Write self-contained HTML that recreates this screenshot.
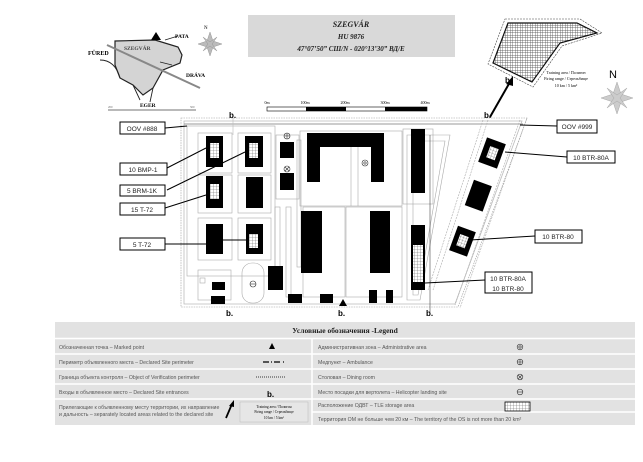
<!DOCTYPE html>
<html><head><meta charset="utf-8"><style>
html,body{margin:0;padding:0;background:#fff;}
svg{display:block}
text{font-family:"Liberation Sans","Noto Sans CJK SC",sans-serif}
.s,.s text{font-family:"Liberation Serif","Noto Serif CJK SC",serif}
.lg{font-size:5.2px;fill:#555}
.lb{font-size:6.5px;fill:#222}
</style></head><body>
<svg width="643" height="462" viewBox="0 0 643 462" xmlns="http://www.w3.org/2000/svg">
<defs>
<pattern id="g" width="3" height="3" patternUnits="userSpaceOnUse"><rect width="3" height="3" fill="#fff"/><path d="M0 0H3M0 0V3" stroke="#666" stroke-width="0.6"/></pattern>
<pattern id="g2" width="2.5" height="2.5" patternUnits="userSpaceOnUse"><rect width="2.5" height="2.5" fill="#fff"/><path d="M0 0H2.5M0 0V2.5" stroke="#444" stroke-width="0.7"/></pattern>
</defs>
<!-- inset map -->
<polygon points="115,41 155,40 178,47 182,55 180,63 163,70 153,88 143,95 133,85 120,78 115,65" fill="#d4d4d4" stroke="#222" stroke-width="1.2"/>
<line x1="107" y1="45" x2="200" y2="88" stroke="#888" stroke-width="2"/>
<path d="M100 60 Q115 60 120 78 M153 88 L150 102 M133 85 L140 100 M165 40 L178 36 M172 65 L160 62" stroke="#222" fill="none" stroke-width="0.9"/>
<polygon points="151,40 156,32 161,40" fill="#000"/>
<text x="88" y="55" class="s" font-size="6" font-weight="bold">FÜRED</text>
<text x="124" y="50" class="s" font-size="5.5" font-weight="bold" fill="#444">SZEGVÁR</text>
<text x="175" y="38" class="s" font-size="5.5" font-weight="bold">PATA</text>
<text x="186" y="77" class="s" font-size="5.5" font-weight="bold">DRÁVA</text>
<text x="140" y="107" class="s" font-size="5.5" font-weight="bold">EGER</text>
<line x1="108" y1="110" x2="196" y2="110" stroke="#444" stroke-width="0.8"/>
<g class="s" font-size="3" fill="#666"><text x="108" y="108">200</text><text x="190" y="108">500</text></g>
<!-- compass small -->
<g transform="translate(210,44)" fill="#bbb" stroke="#888" stroke-width="0.4">
<polygon points="0,-12 3,-3 12,0 3,3 0,12 -3,3 -12,0 -3,-3"/>
<polygon points="-7,-7 0,-2 7,-7 2,0 7,7 0,2 -7,7 -2,0"/>
</g>
<text x="204" y="29" font-size="5" class="s">N</text>
<!-- title -->
<rect x="248" y="15" width="207" height="42" fill="#d9d9d9"/>
<g class="s" font-style="italic" font-weight="bold" text-anchor="middle" fill="#222">
<text x="351" y="27" font-size="8">SZEGVÁR</text>
<text x="351" y="39" font-size="7">HU 9876</text>
<text x="351" y="51" font-size="7">47°07’50” СШ/N  -  020°13’30” ВД/Е</text>
</g>
<!-- scale bar -->
<rect x="267" y="107" width="160" height="4" fill="#fff" stroke="#000" stroke-width="0.6"/>
<rect x="306" y="107" width="40" height="4" fill="#000"/><rect x="385" y="107" width="42" height="4" fill="#000"/>
<g font-size="4" class="s" text-anchor="middle"><text x="267" y="104">0m</text><text x="305" y="104">100m</text><text x="345" y="104">200m</text><text x="385" y="104">300m</text><text x="425" y="104">400m</text></g>
<!-- training area -->
<polygon points="505,19 580,19 602,33 562,46 533,87 488,64" fill="none" stroke="#444" stroke-width="0.6" stroke-dasharray="2 1"/>
<polygon points="508,23 577,23 597,33 560,43 532,82 493,63" fill="url(#g2)" stroke="#111" stroke-width="1.2"/>
<line x1="490" y1="117" x2="510" y2="82" stroke="#000" stroke-width="2"/>
<polygon points="513,76 506,84 513,86" fill="#000"/>
<g class="s" font-size="4" text-anchor="middle"><text x="566" y="74">Training area / Полигон</text><text x="566" y="80">Firing range / Стрельбище</text><text x="566" y="87">10 km / 5 km²</text></g>
<text x="609" y="78" font-size="11">N</text>
<g transform="translate(617,98)" fill="#ccc" stroke="#999" stroke-width="0.4">
<polygon points="0,-16 4,-4 16,0 4,4 0,16 -4,4 -16,0 -4,-4"/>
<polygon points="-10,-10 0,-3 10,-10 3,0 10,10 0,3 -10,10 -3,0"/>
</g>
<!-- site perimeter -->
<polygon points="181,118 527,118 458,307 181,307" fill="none" stroke="#999" stroke-width="0.6" stroke-dasharray="1.5 1"/>
<polygon points="184,121 522,121 455,304 184,304" fill="none" stroke="#bbb" stroke-width="0.8"/>
<line x1="184" y1="124" x2="523" y2="124" stroke="#999" stroke-width="1"/>
<!-- left section lines -->
<g fill="none" stroke="#aaa" stroke-width="0.6">
<rect x="187" y="126" width="88" height="150"/>
<rect x="198" y="133" width="34" height="40"/><rect x="238" y="133" width="33" height="40"/>
<rect x="198" y="175" width="34" height="38"/><rect x="238" y="175" width="33" height="38"/>
<rect x="198" y="218" width="34" height="42"/><rect x="238" y="218" width="33" height="42"/>
<rect x="198" y="270" width="33" height="30"/>
<rect x="242" y="263" width="22" height="40" rx="10"/>
<rect x="276" y="135" width="23" height="64"/>
<rect x="297" y="140" width="4" height="127"/>
<rect x="275" y="207" width="5" height="60"/>
<rect x="286" y="207" width="5" height="90"/>
<rect x="300" y="131" width="102" height="75"/>
<line x1="351" y1="145" x2="351" y2="206"/><line x1="358" y1="145" x2="358" y2="206"/>
<rect x="303" y="207" width="42" height="90"/><rect x="346" y="207" width="56" height="90"/>
<rect x="403" y="129" width="30" height="75"/>
<polygon points="407,135 450,135 420,300 407,300"/>
<polygon points="413,141 445,141 418,295 413,295"/>
<rect x="200" y="278" width="5" height="5"/>
</g>
<g stroke="#aaa" stroke-width="0.6" fill="none" stroke-dasharray="2 1">
<line x1="488" y1="120" x2="433" y2="290"/><line x1="483" y1="120" x2="428" y2="290"/>
<line x1="527" y1="118" x2="460" y2="308"/><line x1="520" y1="120" x2="455" y2="305"/>
</g>
<line x1="233" y1="118" x2="233" y2="135" stroke="#bbb" stroke-width="0.6"/>
<line x1="430" y1="135" x2="430" y2="312" stroke="#222" stroke-width="0.5"/>
<!-- buildings -->
<g fill="#000">
<rect x="206" y="136" width="17" height="31"/><rect x="245" y="136" width="18" height="31"/>
<rect x="206" y="176" width="17" height="32"/><rect x="246" y="177" width="17" height="31"/>
<rect x="206" y="224" width="17" height="30"/><rect x="246" y="224" width="17" height="30"/>
<rect x="280" y="142" width="14" height="16"/><rect x="280" y="173" width="14" height="17"/>
<path d="M307 133H384V182H371V147H320V182H307Z"/>
<rect x="411" y="129" width="14" height="64"/>
<rect x="301" y="211" width="21" height="62"/><rect x="370" y="211" width="20" height="62"/>
<rect x="411" y="225" width="14" height="65"/>
<rect x="268" y="266" width="15" height="24"/>
<rect x="288" y="294" width="14" height="9"/><rect x="320" y="294" width="13" height="9"/>
<rect x="369" y="290" width="8" height="13"/><rect x="386" y="290" width="7" height="13"/>
<rect x="212" y="282" width="13" height="8"/><rect x="211" y="296" width="14" height="8"/>
<polygon points="339,306 343,299 347,306"/>
<rect x="482" y="140" width="20" height="26" transform="rotate(20 492 153)"/>
<rect x="469" y="182" width="19" height="27" transform="rotate(20 478 195)"/>
<rect x="453" y="228" width="19" height="26" transform="rotate(20 462 241)"/>
</g>
<g fill="url(#g)">
<rect x="210" y="143" width="9" height="15"/><rect x="249" y="143" width="9" height="15"/>
<rect x="210" y="184" width="9" height="15"/><rect x="249" y="234" width="9" height="14"/>
<rect x="413" y="245" width="10" height="37"/>
<rect x="488" y="147" width="9" height="12" transform="rotate(20 492 153)"/>
<rect x="458" y="235" width="9" height="12" transform="rotate(20 462 241)"/>
</g>
<g fill="none" stroke="#333" stroke-width="0.6">
<circle cx="287" cy="136" r="3"/><path d="M284 136H290M287 133V139"/>
<circle cx="287" cy="169" r="3"/><path d="M285 167L289 171M289 167L285 171"/>
<circle cx="365" cy="163" r="3"/><circle cx="365" cy="163" r="1.2"/>
<circle cx="253" cy="284" r="3"/><path d="M250 284H256"/>
</g>
<!-- entrances -->
<g font-size="8" font-weight="bold">
<text x="229" y="118">b.</text><text x="484" y="118">b.</text><text x="505" y="83">b.</text>
<text x="226" y="316">b.</text><text x="338" y="316">b.</text><text x="426" y="316">b.</text>
</g>
<!-- label connectors -->
<g stroke="#000" stroke-width="1" fill="none">
<path d="M165 128L187 126"/><path d="M167 168L206 148"/><path d="M167 190L245 152"/>
<path d="M165 208L206 195"/><path d="M165 244L206 244M223 240L246 240"/>
<path d="M557 126L520 125"/><path d="M567 157L505 152"/><path d="M535 236L470 240"/><path d="M485 280L425 283"/>
</g>
<g fill="#fff" stroke="#000" stroke-width="1">
<rect x="120" y="122" width="45" height="12"/><rect x="120" y="163" width="47" height="12"/>
<rect x="120" y="185" width="45" height="11"/><rect x="120" y="203" width="45" height="12"/>
<rect x="120" y="238" width="45" height="12"/>
<rect x="557" y="120" width="40" height="13"/><rect x="567" y="151" width="48" height="12"/>
<rect x="535" y="230" width="47" height="13"/><rect x="485" y="272" width="47" height="21"/>
</g>
<g class="lb" text-anchor="middle">
<text x="142" y="131">OOV #888</text><text x="143" y="172">10 BMP-1</text><text x="142" y="193">5 BRM-1K</text>
<text x="142" y="212">15 T-72</text><text x="142" y="247">5 T-72</text>
<text x="577" y="129">OOV #999</text><text x="591" y="160">10 BTR-80A</text><text x="558" y="239">10 BTR-80</text>
<text x="508" y="281">10 BTR-80A</text><text x="508" y="291">10 BTR-80</text>
</g>
<!-- legend -->
<rect x="55" y="322" width="580" height="103" fill="#e2e2e2"/>
<g stroke="#fff" stroke-width="1.5">
<line x1="55" y1="338.5" x2="635" y2="338.5"/><line x1="312" y1="338" x2="312" y2="425"/>
<line x1="55" y1="354" x2="635" y2="354"/><line x1="55" y1="369" x2="635" y2="369"/>
<line x1="55" y1="384" x2="635" y2="384"/><line x1="55" y1="399" x2="635" y2="399"/>
<line x1="312" y1="412" x2="635" y2="412"/>
</g>
<text x="345" y="333" class="s" font-size="7.5" font-weight="bold" text-anchor="middle" fill="#222">Условные обозначения -Legend</text>
<g class="lg">
<text x="59" y="349">Обозначенная точка – Marked point</text>
<text x="59" y="364">Периметр объявленного места – Declared Site perimeter</text>
<text x="59" y="379">Граница объекта контроля – Object of Verification perimeter</text>
<text x="59" y="394">Входы в объявленное место – Declared Site entrances</text>
<text x="59" y="409">Прилегающие к объявленному месту территории, их направление</text>
<text x="59" y="416">и дальность – separately located areas related to the declared site</text>
<text x="318" y="349">Административная зона – Administrative area</text>
<text x="318" y="364">Медпункт – Ambulance</text>
<text x="318" y="379">Столовая – Dining room</text>
<text x="318" y="394">Место посадки для вертолета – Helicopter landing site</text>
<text x="318" y="407">Расположение ОДВТ – TLE storage area</text>
<text x="318" y="421">Территория ОМ не больше чем 20 км – The territory of the OS is not more than 20 km²</text>
</g>
<polygon points="269,349 272,343 275,349" fill="#000"/>
<path d="M263 362H269M271 362H272M274 362H280M283 362H284" stroke="#000" stroke-width="1.2"/>
<path d="M256 377H285" stroke="#000" stroke-width="0.8" stroke-dasharray="1 1"/>
<text x="267" y="397" font-size="8" font-weight="bold">b.</text>
<path d="M226 418L232 404" stroke="#000" stroke-width="1.8"/><polygon points="234,400 229,406 234,407"/>
<rect x="240" y="402" width="68" height="20" fill="#e6e6e6" stroke="#bbb" stroke-width="0.5"/>
<g class="s" font-size="3.6" text-anchor="middle"><text x="274" y="408">Training area / Полигон</text><text x="274" y="413">Firing range / Стрельбище</text><text x="274" y="419">10 km / 5 km²</text></g>
<g fill="none" stroke="#333" stroke-width="0.6">
<circle cx="520" cy="347" r="2.8"/><circle cx="520" cy="347" r="1.2"/>
<circle cx="520" cy="362" r="2.8"/><path d="M517 362H523M520 359V365"/>
<circle cx="520" cy="377" r="2.8"/><path d="M518 375L522 379M522 375L518 379"/>
<circle cx="520" cy="392" r="2.8"/><path d="M517 392H523"/>
</g>
<rect x="505" y="402" width="25" height="9" fill="url(#g)" stroke="#000" stroke-width="0.8"/>
</svg>
</body></html>
